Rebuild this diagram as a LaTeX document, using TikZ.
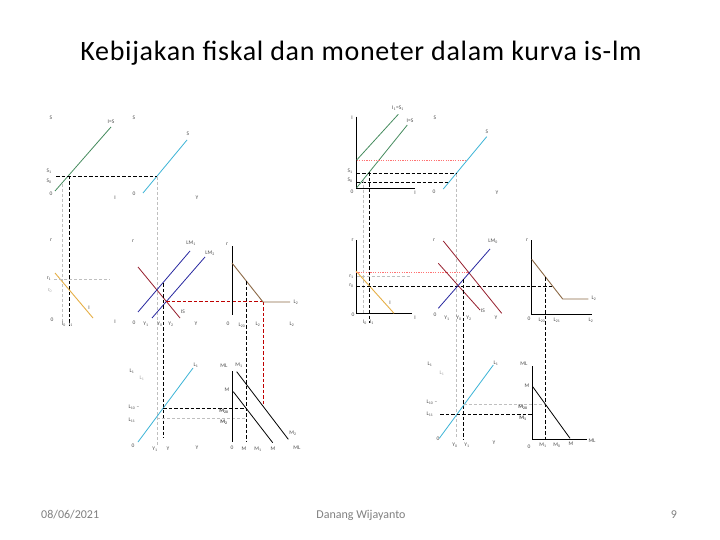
\documentclass[tikz,border=0pt]{standalone}
\usepackage{fontspec}
\setmainfont{Carlito}
\newfontfamily\titlefont[LetterSpace=2.5]{Carlito}
\begin{document}
\begin{tikzpicture}[x=1pt,y=-1pt,
  lbl/.style={font=\fontsize{5.5}{6}\selectfont, text=black!70, inner sep=0pt},
  lblf/.style={font=\fontsize{5.5}{6}\selectfont, text=black!35, inner sep=0pt},
  ax/.style={black, line width=0.9pt},
  bd/.style={black, line width=0.8pt, dash pattern=on 3.5pt off 2pt},
  gd/.style={black!25, line width=0.7pt, dash pattern=on 3pt off 2pt},
  rd/.style={red!75!black, line width=0.8pt, dash pattern=on 3.5pt off 2pt},
  pd/.style={red!55, line width=0.6pt, dash pattern=on 1.2pt off 1.2pt},
  gr/.style={color={rgb,255:red,70;green,140;blue,95}, line width=0.8pt},
  cy/.style={color={rgb,255:red,60;green,180;blue,215}, line width=0.8pt},
  ye/.style={color={rgb,255:red,230;green,175;blue,70}, line width=0.9pt},
  isl/.style={color={rgb,255:red,150;green,30;blue,45}, line width=0.8pt},
  lml/.style={color={rgb,255:red,40;green,40;blue,160}, line width=0.8pt},
  br/.style={color={rgb,255:red,140;green,105;blue,70}, line width=0.9pt},
  ml/.style={black, line width=0.8pt},
  foot/.style={font=\fontsize{12}{14}\selectfont, text=black!50, inner sep=0pt}]
\useasboundingbox (0,0) rectangle (720,540);
\fill[white] (0,0) rectangle (720,540);

% title and footer
\node[font=\titlefont\fontsize{28}{32}\selectfont, inner sep=0pt] (title) at (361,53) {Kebijakan fiskal dan moneter dalam kurva is-lm};
\node[foot, anchor=west] (date) at (41,515) {08/06/2021};
\node[foot] (author) at (361,515) {Danang Wijayanto};
\node[foot] (page) at (674,515) {9};

%================ LEFT DIAGRAM ================
% panel A : S vs I
\coordinate (gA1) at (55,191); \coordinate (gA2) at (111,127);
\draw[gr] (gA1) -- (gA2);
\node[lbl] (lAis) at (111,122) {I=S};
\node[lbl] (lAs) at (51,118) {S};
\node[lbl] (lAs1) at (49,171) {S\textsubscript{1}};
\node[lbl] (lAs0) at (49,181) {S\textsubscript{0}};
\node[lbl] (lA0) at (51,194) {0};
\node[lbl] (lAi) at (115,198) {I};
% panel B : S vs Y
\coordinate (cB1) at (143,193); \coordinate (cB2) at (187,140);
\draw[cy] (cB1) -- (cB2);
\node[lbl] (lBs2) at (188,134) {S};
\node[lbl] (lBs) at (134,118) {S};
\node[lbl] (lB0) at (134,194) {0};
\node[lbl] (lBy) at (197,198) {Y};
% dashed guides top
\coordinate (hA1) at (56,176); \coordinate (hA2) at (157,176);
\draw[bd] (hA1) -- (hA2);
\coordinate (vb1t) at (69,176); \coordinate (vb1b) at (69,326);
\draw[bd] (vb1t) -- (vb1b);
\coordinate (vg1t) at (62,184); \coordinate (vg1b) at (62,323);
\draw[gd] (vg1t) -- (vg1b);
\coordinate (vg2t) at (157,177); \coordinate (vg2b) at (157,446);
\draw[gd] (vg2t) -- (vg2b);

% panel C : r vs I
\node[lbl] (lCr) at (51,240) {r};
\node[lbl] (lCr1) at (49,279) {r\textsubscript{1}};
\node[lblf] (lCr0) at (50,291) {r\textsubscript{0}};
\coordinate (yC1) at (55,273); \coordinate (yC2) at (93,318);
\draw[ye] (yC1) -- (yC2);
\node[lbl] (lCi) at (89,308) {I};
\node[lbl] (lC0) at (52,320) {0};
\node[lbl] (lCi0) at (64,324) {I\textsubscript{0}};
\node[lbl] (lCi1) at (71,324) {I\textsubscript{1}};
\node[lbl] (lCI) at (115,322) {I};
\coordinate (hgC1) at (54,279); \coordinate (hgC2) at (110,279);
\draw[gd] (hgC1) -- (hgC2);

% panel D : IS-LM
\node[lbl] (lDr) at (133,241) {r};
\coordinate (lm1a) at (138,312); \coordinate (lm1b) at (190,251);
\coordinate (lm2a) at (152,318); \coordinate (lm2b) at (205,257);
\coordinate (isa) at (138,267); \coordinate (isb) at (180,318);
\draw[isl] (isa) -- (isb);
\draw[lml] (lm1a) -- (lm1b);
\draw[lml] (lm2a) -- (lm2b);
\node[lbl] (lDlm1) at (191,243) {LM\textsubscript{1}};
\node[lbl] (lDlm2) at (210,253) {LM\textsubscript{2}};
\node[lbl] (lDis) at (183,312) {IS};
\node[lbl] (lD0) at (134,323) {0};
\node[lbl] (lDy1) at (146,324) {Y\textsubscript{1}};
\node[lbl] (lDy0) at (160,324) {Y\textsubscript{0}};
\node[lbl] (lDy2) at (171,324) {Y\textsubscript{2}};
\node[lbl] (lDy) at (196,324) {Y};
\coordinate (vbDt) at (163,283); \coordinate (vbDb) at (163,438);
\draw[bd] (vbDt) -- (vbDb);
\coordinate (rdh1) at (166,301.5); \coordinate (rdh2) at (263,301.5);
\draw[rd] (rdh1) -- (rdh2);
\coordinate (rdvb) at (263,404);
\draw[rd] (rdh2) -- (rdvb);

% panel E : r vs L2
\node[lbl] (lEr) at (227,244) {r};
\coordinate (axEt) at (232,246); \coordinate (axEb) at (232,315);
\draw[ax] (axEt) -- (axEb);
\coordinate (brE1) at (232,263); \coordinate (brE2) at (263,302); \coordinate (brE3) at (290,302);
\draw[br] (brE1) -- (brE2) -- (brE3);
\node[lbl] (lEl2) at (296,302) {L\textsubscript{2}};
\coordinate (vbEt) at (246,281); \coordinate (vbEb) at (246,441);
\draw[bd] (vbEt) -- (vbEb);
\node[lbl] (lE0) at (228,324) {0};
\node[lbl] (lEl20) at (242,325) {L\textsubscript{20}};
\node[lbl] (lEl2b) at (258,324) {L\textsubscript{2}};
\node[lbl] (lEl2c) at (292,324) {L\textsubscript{2}};

% panel F : L1 vs Y
\node[lbl] (lFl1) at (132,371) {L\textsubscript{1}};
\node[lblf] (lFl1f) at (142,378) {L\textsubscript{1}};
\coordinate (cF1) at (138,442); \coordinate (cF2) at (193,368);
\draw[cy] (cF1) -- (cF2);
\node[lbl] (lFl1c) at (196,365) {L\textsubscript{1}};
\node[lbl] (lFl10) at (134,407) {L\textsubscript{10} –};
\node[lbl] (lFl11) at (132,420) {L\textsubscript{11}};
\node[lbl] (lF0) at (133,446) {0};
\node[lbl] (lFy1) at (155,449) {Y\textsubscript{1}};
\node[lbl] (lFy) at (168,449) {Y};
\node[lbl] (lFY) at (197,448) {Y};
\coordinate (hbF1) at (163,408.5); \coordinate (hbF2) at (246,408.5);
\draw[bd] (hbF1) -- (hbF2);
\coordinate (hgF1) at (157,418.5); \coordinate (hgF2) at (246,418.5);
\draw[gd] (hgF1) -- (hgF2);

% panel G : ML vs M
\node[lbl] (lGml) at (224,366) {ML};
\node[lbl] (lGm1t) at (239,365) {M\textsubscript{1}};
\coordinate (axGt) at (232.7,371); \coordinate (axGb) at (232.7,442);
\draw[ax] (axGt) -- (axGb);
\node[lbl] (lGm) at (227,390) {M};
\coordinate (mG1) at (233.3,391.7); \coordinate (mG2) at (272.7,442.7);
\draw[ml] (mG1) -- (mG2);
\coordinate (mG3) at (236.7,371.7); \coordinate (mG4) at (288.3,439.3);
\draw[ml] (mG3) -- (mG4);
\node[lbl] (lGm2) at (293,433) {M\textsubscript{2}};
\node[lbl, font=\fontsize{5.5}{6}\bfseries] (lGm20) at (224,411) {M\textsubscript{20}};
\node[lbl, font=\fontsize{5.5}{6}\bfseries] (lGm2b) at (224,422) {M\textsubscript{2}};
\node[lbl] (lG0) at (232,448) {0};
\node[lbl] (lGmb) at (244,449) {M};
\node[lbl] (lGm1b) at (258,449) {M\textsubscript{1}};
\node[lbl] (lGmc) at (273,449) {M};
\node[lbl] (lGML) at (297,448) {ML};

%================ RIGHT DIAGRAM ================
% panel A'
\coordinate (axAo) at (356.7,188.3); \coordinate (axAt) at (356.7,116.7); \coordinate (axAr) at (415,188.3);
\draw[ax] (axAt) -- (axAo) -- (axAr);
\node[lbl] (rAi) at (352,118) {I};
\coordinate (g1a) at (356.7,160); \coordinate (g1b) at (398.3,114.3);
\coordinate (g2a) at (356.7,187.7); \coordinate (g2b) at (407.3,125);
\draw[gr] (g1a) -- (g1b);
\draw[gr] (g2a) -- (g2b);
\node[lbl] (rAis1) at (398,108) {I\textsubscript{1}=S\textsubscript{1}};
\node[lbl] (rAis) at (410,121) {I=S};
\node[lbl] (rAs) at (435,118) {S};
\node[lbl] (rAs1) at (350,171) {S\textsubscript{1}};
\node[lbl] (rAs0) at (350,180) {S\textsubscript{0}};
\node[lbl] (rA0) at (352,192) {0};
\node[lbl] (rAI) at (415,193) {I};
\node[lbl] (rB0) at (434,192) {0};
\node[lbl] (rBy) at (497,193) {Y};
\coordinate (cyR1) at (443.3,189); \coordinate (cyR2) at (486.7,136.7);
\draw[cy] (cyR1) -- (cyR2);
\node[lbl] (rBs) at (487,132) {S};
\coordinate (pdA2) at (467,160);
\draw[pd] (g1a) -- (pdA2);
\coordinate (hbA1) at (356.7,173.3); \coordinate (hbA2) at (456.3,173.3);
\draw[bd] (hbA1) -- (hbA2);
\coordinate (hbB1) at (356.7,182.3); \coordinate (hbB2) at (449,182.3);
\draw[bd] (hbB1) -- (hbB2);
\coordinate (vbRt) at (369.3,172.5); \coordinate (vbRb) at (369.3,323);
\draw[bd] (vbRt) -- (vbRb);
\coordinate (vgRt) at (363.3,180); \coordinate (vgRb) at (363.3,313);
\draw[gd] (vgRt) -- (vgRb);
\coordinate (vgR2t) at (456.3,174); \coordinate (vgR2b) at (456.3,439);
\draw[gd] (vgR2t) -- (vgR2b);

% panel C'
\coordinate (axCt) at (356,240); \coordinate (axCo) at (356,313.3); \coordinate (axCr) at (411.7,313.3);
\draw[ax] (axCt) -- (axCo) -- (axCr);
\node[lbl] (rCr) at (352.7,240) {r};
\coordinate (yR1) at (356,271); \coordinate (yR2) at (394,313.3);
\draw[ye] (yR1) -- (yR2);
\node[lbl] (rCi) at (390,303) {I};
\node[lbl] (rCr1) at (351.5,276.7) {r\textsubscript{1}};
\node[lbl] (rCr0) at (351.5,286) {r\textsubscript{0}};
\coordinate (pdC1) at (356,272.3); \coordinate (pdC2) at (468,272.3);
\draw[pd] (pdC1) -- (pdC2);
\coordinate (gdC1) at (356.7,276.7); \coordinate (gdC2) at (410,276.7);
\draw[gd] (gdC1) -- (gdC2);
\coordinate (bdC1) at (356,286); \coordinate (bdC2) at (552,286);
\draw[bd] (bdC1) -- (bdC2);
\node[lbl] (rC0) at (353,315) {0};
\node[lbl] (rCi0) at (365,322) {I\textsubscript{0}};
\node[lbl] (rCi1) at (372,322) {I\textsubscript{1}};
\node[lbl] (rCI) at (415,318) {I};

% panel D'
\node[lbl] (rDr) at (434,240) {r};
\coordinate (lm0a) at (438.3,308.3); \coordinate (lm0b) at (490,249);
\coordinate (is1a) at (438.3,263.3); \coordinate (is1b) at (480,310);
\coordinate (is2a) at (443.3,241); \coordinate (is2b) at (501.7,313.3);
\draw[isl] (is1a) -- (is1b);
\draw[isl] (is2a) -- (is2b);
\draw[lml] (lm0a) -- (lm0b);
\node[lbl] (rDlm) at (493,241) {LM\textsubscript{0}};
\node[lbl] (rDis) at (483,311) {IS};
\node[lbl] (rD0) at (435,315) {0};
\node[lbl] (rDy1) at (447,318) {Y\textsubscript{1}};
\node[lbl] (rDy0) at (459,318) {Y\textsubscript{0}};
\node[lbl] (rDy2) at (469,318) {Y\textsubscript{2}};
\node[lbl] (rDy) at (496,318) {Y};
\coordinate (vbDRt) at (463.5,279); \coordinate (vbDRb) at (463.5,439);
\draw[bd] (vbDRt) -- (vbDRb);

% panel E'
\coordinate (axERt) at (531.7,240); \coordinate (axERo) at (531.7,314.3); \coordinate (axERr) at (591.7,314.3);
\draw[ax] (axERt) -- (axERo) -- (axERr);
\node[lbl] (rEr) at (527,240) {r};
\coordinate (brR1) at (531.7,259.3); \coordinate (brR2) at (562.7,299); \coordinate (brR3) at (588.3,299);
\draw[br] (brR1) -- (brR2) -- (brR3);
\node[lbl] (rEl2) at (594,298) {L\textsubscript{2}};
\coordinate (vbEt2) at (545.7,277); \coordinate (vbEb2) at (545.7,439.3);
\draw[bd] (vbEt2) -- (vbEb2);
\node[lbl] (rE0) at (529,319) {0};
\node[lbl] (rEl20) at (542,320) {L\textsubscript{20}};
\node[lbl] (rEl21) at (557,320) {L\textsubscript{21}};
\node[lbl] (rEl2b) at (591,320) {L\textsubscript{2}};

% panel F'
\node[lbl] (rFl1) at (430,364) {L\textsubscript{1}};
\node[lblf] (rFl1f) at (442,373) {L\textsubscript{1}};
\coordinate (cyF1) at (439.3,438.3); \coordinate (cyF2) at (493.3,365);
\draw[cy] (cyF1) -- (cyF2);
\node[lbl] (rFl1c) at (496,363) {L\textsubscript{1}};
\node[lbl] (rFl10) at (432,402) {L\textsubscript{10} –};
\node[lbl] (rFl11) at (430,414) {L\textsubscript{11}};
\coordinate (gdF1) at (463.5,404); \coordinate (gdF2) at (545.7,404);
\draw[gd] (gdF1) -- (gdF2);
\coordinate (bdF1) at (440,414.3); \coordinate (bdF2) at (532.7,414.3);
\draw[bd] (bdF1) -- (bdF2);
\node[lbl] (rF0) at (438,439) {0};
\node[lbl] (rFy0) at (455,445) {Y\textsubscript{0}};
\node[lbl] (rFy1) at (467,445) {Y\textsubscript{1}};
\node[lbl] (rFy) at (494,443) {Y};

% panel G'
\coordinate (axGRt) at (532.7,366); \coordinate (axGRo) at (532.7,439.3); \coordinate (axGRr) at (586.7,439.3);
\draw[ax] (axGRt) -- (axGRo) -- (axGRr);
\node[lbl] (rGml) at (524,364) {ML};
\coordinate (mR1) at (532.7,386.7); \coordinate (mR2) at (570,438.3);
\draw[ml] (mR1) -- (mR2);
\node[lbl] (rGm) at (527,386) {M};
\node[lbl, font=\fontsize{5.5}{6}\bfseries] (rGm20) at (523,407) {M\textsubscript{20}};
\node[lbl, font=\fontsize{5.5}{6}\bfseries] (rGm1) at (523,418) {M\textsubscript{1}};
\node[lbl] (rG0) at (529,447) {0};
\node[lbl] (rGm1b) at (543,445) {M\textsubscript{1}};
\node[lbl] (rGm0b) at (557,445) {M\textsubscript{0}};
\node[lbl] (rGmc) at (571,444) {M};
\node[lbl] (rGML) at (592,441) {ML};
\end{tikzpicture}
\end{document}
